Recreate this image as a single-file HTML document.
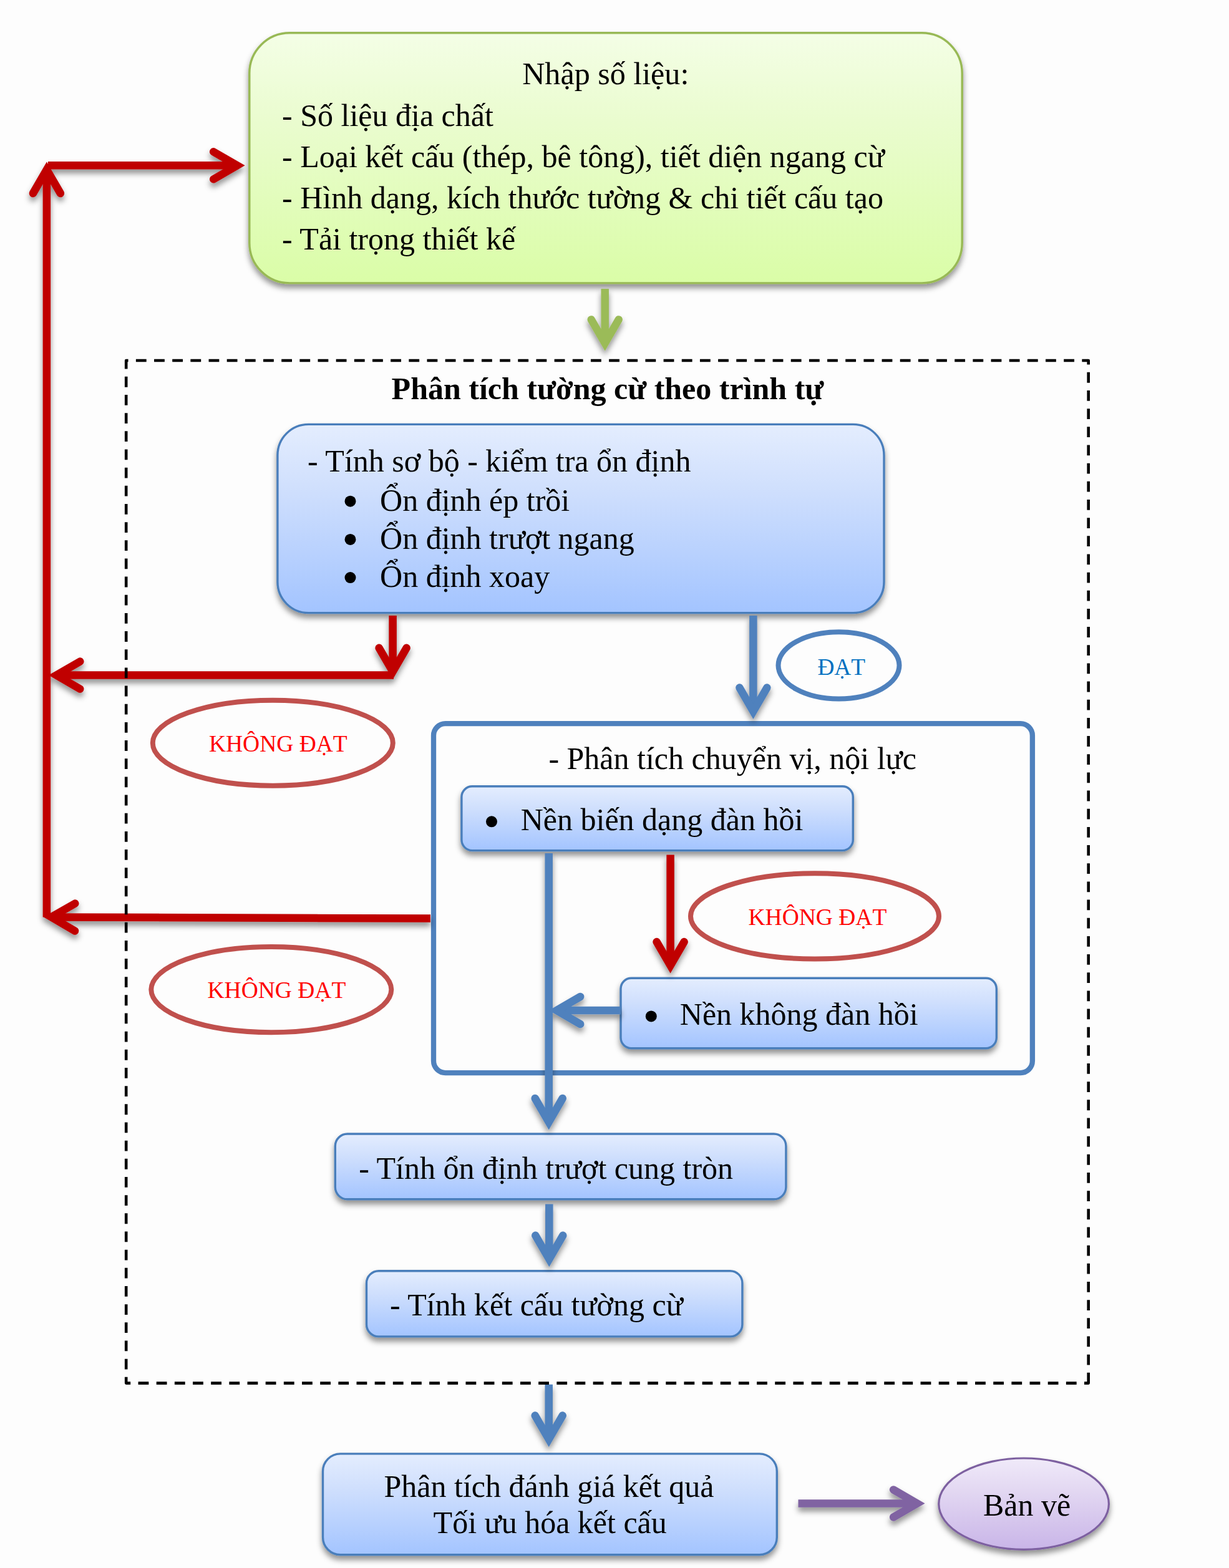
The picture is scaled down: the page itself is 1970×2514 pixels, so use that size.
<!DOCTYPE html>
<html lang="vi">
<head>
<meta charset="utf-8">
<title>Sơ đồ phân tích tường cừ</title>
<style>
html,body{margin:0;padding:0;background:#fdfdfd;}
body{width:1970px;height:2514px;overflow:hidden;}
svg{display:block;}
text{font-family:"Liberation Serif", "Times New Roman", serif;white-space:pre;}
</style>
</head>
<body>
<svg width="1970" height="2514" viewBox="0 0 1970 2514">
<rect width="1970" height="2514" fill="#fdfdfd"/>
<defs>
<linearGradient id="gG" x1="0" y1="0" x2="0" y2="1"><stop offset="0" stop-color="#F4FEE6"/><stop offset="0.35" stop-color="#EAFCCF"/><stop offset="1" stop-color="#DAFDA7"/></linearGradient>
<linearGradient id="gB" x1="0" y1="0" x2="0" y2="1"><stop offset="0" stop-color="#E4EDFE"/><stop offset="0.35" stop-color="#CFDFFD"/><stop offset="1" stop-color="#A3C4FF"/></linearGradient>
<linearGradient id="gP" x1="0" y1="0" x2="0" y2="1"><stop offset="0" stop-color="#F0EAF9"/><stop offset="0.35" stop-color="#E3D8F2"/><stop offset="1" stop-color="#C9B5E8"/></linearGradient>
<filter id="sh" x="-20%" y="-20%" width="140%" height="150%" filterUnits="objectBoundingBox"><feDropShadow dx="0" dy="6.5" stdDeviation="4.8" flood-color="#000" flood-opacity="0.43"/></filter>
<filter id="shu" x="-50" y="-50" width="2100" height="2700" filterUnits="userSpaceOnUse"><feDropShadow dx="0" dy="6.5" stdDeviation="4.8" flood-color="#000" flood-opacity="0.43"/></filter>
</defs>
<rect x="399.8" y="52.8" width="1142.4" height="401.1" rx="64.5" ry="64.5" fill="url(#gG)" stroke="#98B954" stroke-width="3.4" filter="url(#sh)"/>
<text x="837.2" y="135.3" font-size="50.1" fill="#000">Nhập số liệu:</text>
<text x="452.1" y="201.6" font-size="50.0" fill="#000">- Số liệu địa chất</text>
<text x="452.1" y="267.7" font-size="50.0" fill="#000">- Loại kết cấu (thép, bê tông), tiết diện ngang cừ</text>
<text x="452.1" y="333.8" font-size="50.0" fill="#000">- Hình dạng, kích thước tường &amp; chi tiết cấu tạo</text>
<text x="452.1" y="399.9" font-size="50.0" fill="#000">- Tải trọng thiết kế</text>
<text x="627.6" y="640.1" font-size="50.0" fill="#000" font-weight="bold">Phân tích tường cừ theo trình tự</text>
<rect x="444.9" y="680.4" width="972.1" height="302.2" rx="49.5" ry="49.5" fill="url(#gB)" stroke="#4A7EBB" stroke-width="3.4" filter="url(#sh)"/>
<text x="493.1" y="756.3" font-size="50.0" fill="#000">- Tính sơ bộ - kiểm tra ổn định</text>
<circle cx="561.5" cy="803.7" r="9.0" fill="#000"/>
<text x="609.1" y="818.7" font-size="50.0" fill="#000">Ổn định ép trồi</text>
<circle cx="561.5" cy="864.9" r="9.0" fill="#000"/>
<text x="609.1" y="879.9" font-size="50.0" fill="#000">Ổn định trượt ngang</text>
<circle cx="561.5" cy="926.1" r="9.0" fill="#000"/>
<text x="609.1" y="941.1" font-size="50.0" fill="#000">Ổn định xoay</text>
<ellipse cx="1344.5" cy="1066.8" rx="97.0" ry="53.6" fill="none" stroke="#4F81BD" stroke-width="8"/>
<text x="1310.4" y="1082.3" font-size="37.3" fill="#0070C0">ĐẠT</text>
<ellipse cx="437.3" cy="1191.2" rx="192.5" ry="68.5" fill="none" stroke="#C0504D" stroke-width="8"/>
<text x="334.9" y="1204.7" font-size="37.5" fill="#FF0000">KHÔNG ĐẠT</text>
<ellipse cx="434.8" cy="1586.6" rx="192.5" ry="68.6" fill="none" stroke="#C0504D" stroke-width="8"/>
<text x="332.5" y="1599.5" font-size="37.5" fill="#FF0000">KHÔNG ĐẠT</text>
<ellipse cx="1306.0" cy="1468.9" rx="199.0" ry="68.6" fill="none" stroke="#C0504D" stroke-width="8"/>
<text x="1199.5" y="1482.5" font-size="37.5" fill="#FF0000">KHÔNG ĐẠT</text>
<rect x="695" y="1160.2" width="959.9" height="559.9" rx="19" ry="19" fill="none" stroke="#4F81BD" stroke-width="8.3"/>
<text x="879.4" y="1232.5" font-size="50.0" fill="#000">- Phân tích chuyển vị, nội lực</text>
<rect x="739.9" y="1260.7" width="627.4" height="102.9" rx="17" ry="17" fill="url(#gB)" stroke="#4A7EBB" stroke-width="3.4" filter="url(#sh)"/>
<circle cx="788.0" cy="1317.3" r="9.0" fill="#000"/>
<text x="834.7" y="1330.8" font-size="50.0" fill="#000">Nền biến dạng đàn hồi</text>
<rect x="995.0" y="1568.3" width="602.3" height="112.4" rx="17" ry="17" fill="url(#gB)" stroke="#4A7EBB" stroke-width="3.4" filter="url(#sh)"/>
<circle cx="1043.8" cy="1629.4" r="9.0" fill="#000"/>
<text x="1089.8" y="1643.1" font-size="50.0" fill="#000">Nền không đàn hồi</text>
<rect x="537.3" y="1818.0" width="722.6" height="104.8" rx="19.5" ry="19.5" fill="url(#gB)" stroke="#4A7EBB" stroke-width="3.4" filter="url(#sh)"/>
<text x="575.3" y="1889.6" font-size="50.0" fill="#000">- Tính ổn định trượt cung tròn</text>
<rect x="587.5" y="2037.7" width="602.4" height="105.2" rx="19.5" ry="19.5" fill="url(#gB)" stroke="#4A7EBB" stroke-width="3.4" filter="url(#sh)"/>
<text x="624.9" y="2108.8" font-size="50.0" fill="#000">- Tính kết cấu tường cừ</text>
<rect x="517.5" y="2330.9" width="727.8" height="161.8" rx="28" ry="28" fill="url(#gB)" stroke="#4A7EBB" stroke-width="3.4" filter="url(#sh)"/>
<text x="615.5" y="2400.2" font-size="50.0" fill="#000">Phân tích đánh giá kết quả</text>
<text x="694.6" y="2457.9" font-size="50.0" fill="#000">Tối ưu hóa kết cấu</text>
<ellipse cx="1641.1" cy="2411.2" rx="136.3" ry="73.2" fill="url(#gP)" stroke="#7D60A0" stroke-width="3.2" filter="url(#sh)"/>
<text x="1575.9" y="2430.0" font-size="50.0" fill="#000">Bản vẽ</text>
<g filter="url(#shu)">
<g fill="none" stroke="#C00000" stroke-width="12.5"><path d="M74.9 1470.6L74.9 270.7"/><path d="M96.9 310.0L74.9 272.0L52.9 310.0" stroke-linecap="round" stroke-linejoin="miter" stroke-miterlimit="10"/></g>
<g fill="none" stroke="#C00000" stroke-width="12.5"><path d="M77.0 265.3L381.5 265.3"/><path d="M342.2 287.3L380.2 265.3L342.2 243.3" stroke-linecap="round" stroke-linejoin="miter" stroke-miterlimit="10"/></g>
<g fill="none" stroke="#C00000" stroke-width="12.5"><path d="M629.6 987.0L629.6 1078.1"/><path d="M607.6 1038.8L629.6 1076.8L651.6 1038.8" stroke-linecap="round" stroke-linejoin="miter" stroke-miterlimit="10"/></g>
<g fill="none" stroke="#C00000" stroke-width="12.5"><path d="M631.0 1082.6L89.0 1082.6"/><path d="M128.3 1060.6L90.3 1082.6L128.3 1104.6" stroke-linecap="round" stroke-linejoin="miter" stroke-miterlimit="10"/></g>
<g fill="none" stroke="#C00000" stroke-width="12.5"><path d="M690.0 1472.6L80.9 1470.4"/><path d="M120.3 1448.6L82.2 1470.4L120.1 1492.6" stroke-linecap="round" stroke-linejoin="miter" stroke-miterlimit="10"/></g>
<g fill="none" stroke="#9BBB59" stroke-width="12.5"><path d="M969.7 463.0L969.7 551.7"/><path d="M947.7 512.4L969.7 550.4L991.7 512.4" stroke-linecap="round" stroke-linejoin="miter" stroke-miterlimit="10"/></g>
<g fill="none" stroke="#4F81BD" stroke-width="12.5"><path d="M1207.4 987.0L1207.4 1141.9"/><path d="M1185.4 1102.6L1207.4 1140.6L1229.4 1102.6" stroke-linecap="round" stroke-linejoin="miter" stroke-miterlimit="10"/></g>
<g fill="none" stroke="#4F81BD" stroke-width="12.5"><path d="M879.7 1368.0L879.7 1800.3"/><path d="M857.7 1761.0L879.7 1799.0L901.7 1761.0" stroke-linecap="round" stroke-linejoin="miter" stroke-miterlimit="10"/></g>
<g fill="none" stroke="#4F81BD" stroke-width="12.5"><path d="M995.0 1620.0L890.9 1620.0"/><path d="M930.2 1598.0L892.2 1620.0L930.2 1642.0" stroke-linecap="round" stroke-linejoin="miter" stroke-miterlimit="10"/></g>
<g fill="none" stroke="#C00000" stroke-width="12.5"><path d="M1074.6 1370.5L1074.6 1549.4"/><path d="M1052.6 1510.1L1074.6 1548.1L1096.6 1510.1" stroke-linecap="round" stroke-linejoin="miter" stroke-miterlimit="10"/></g>
<g fill="none" stroke="#4F81BD" stroke-width="12.5"><path d="M880.3 1930.5L880.3 2020.1"/><path d="M858.3 1980.8L880.3 2018.8L902.3 1980.8" stroke-linecap="round" stroke-linejoin="miter" stroke-miterlimit="10"/></g>
<g fill="none" stroke="#4F81BD" stroke-width="12.5"><path d="M879.7 2219.7L879.7 2308.9"/><path d="M857.7 2269.6L879.7 2307.6L901.7 2269.6" stroke-linecap="round" stroke-linejoin="miter" stroke-miterlimit="10"/></g>
<g fill="none" stroke="#8064A2" stroke-width="12.5"><path d="M1279.5 2410.5L1471.4 2410.5"/><path d="M1432.1 2432.5L1470.1 2410.5L1432.1 2388.5" stroke-linecap="round" stroke-linejoin="miter" stroke-miterlimit="10"/></g>
</g>
<path d="M1744.7 2217.6V578H202.2V2217.6Z" fill="none" stroke="#000" stroke-width="4.6" stroke-linejoin="round" stroke-dasharray="16.8 12.363"/>
</svg>
</body>
</html>
